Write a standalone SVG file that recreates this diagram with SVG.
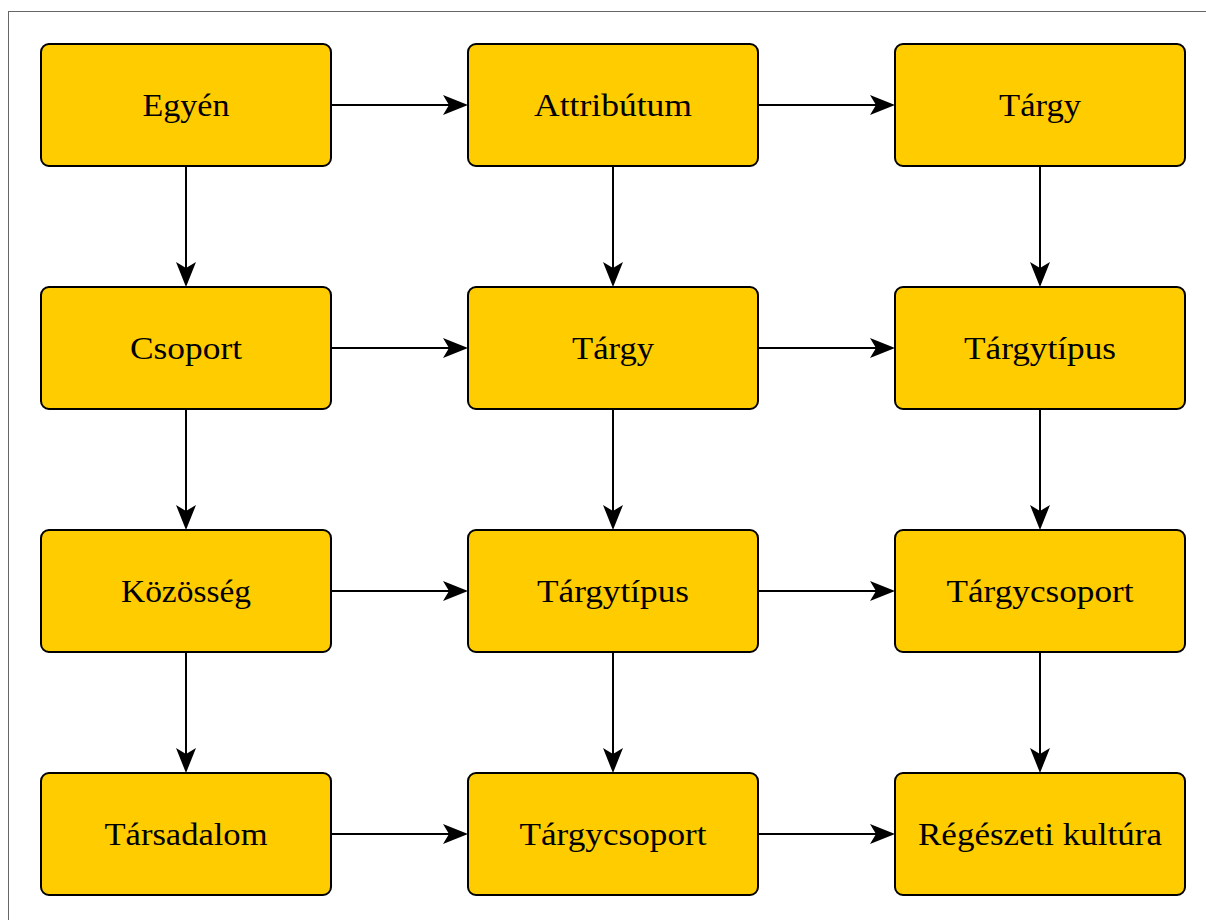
<svg xmlns="http://www.w3.org/2000/svg" width="1206" height="920" viewBox="0 0 1206 920">
<defs>
<style>
.node rect{fill:#FFCC00;stroke:#000;stroke-width:2}
.node text{font-family:"Liberation Serif","Times New Roman",serif;font-size:32px;fill:#000;text-anchor:middle}
.conn path{stroke:#000;stroke-width:2;fill:none;marker-end:url(#arr)}
</style>
<marker id="arr" viewBox="0 0 25 20" refX="13" refY="10" markerWidth="25" markerHeight="20" markerUnits="userSpaceOnUse" orient="auto">
<path d="M0,0 L25,10 L0,20 L6,10 Z" fill="#000"/>
</marker>
</defs>
<rect x="8.5" y="11.5" width="1210" height="920" fill="#fff" stroke="#666" stroke-width="1"/>
<g class="conn">
<path d="M331,105 H456"/>
<path d="M758,105 H883"/>
<path d="M331,348 H456"/>
<path d="M758,348 H883"/>
<path d="M331,591 H456"/>
<path d="M758,591 H883"/>
<path d="M331,834 H456"/>
<path d="M758,834 H883"/>
<path d="M186,166 V275"/>
<path d="M186,409 V518"/>
<path d="M186,652 V761"/>
<path d="M613,166 V275"/>
<path d="M613,409 V518"/>
<path d="M613,652 V761"/>
<path d="M1040,166 V275"/>
<path d="M1040,409 V518"/>
<path d="M1040,652 V761"/>
</g>
<g id="n1" class="node"><rect x="41" y="44" width="290" height="122" rx="8"/><text x="186" y="116" textLength="87" lengthAdjust="spacingAndGlyphs">Egyén</text></g>
<g id="n2" class="node"><rect x="468" y="44" width="290" height="122" rx="8"/><text x="613" y="116" textLength="158" lengthAdjust="spacingAndGlyphs">Attribútum</text></g>
<g id="n3" class="node"><rect x="895" y="44" width="290" height="122" rx="8"/><text x="1040" y="116" textLength="82" lengthAdjust="spacingAndGlyphs">Tárgy</text></g>
<g id="n4" class="node"><rect x="41" y="287" width="290" height="122" rx="8"/><text x="186" y="359" textLength="112" lengthAdjust="spacingAndGlyphs">Csoport</text></g>
<g id="n5" class="node"><rect x="468" y="287" width="290" height="122" rx="8"/><text x="613" y="359" textLength="82" lengthAdjust="spacingAndGlyphs">Tárgy</text></g>
<g id="n6" class="node"><rect x="895" y="287" width="290" height="122" rx="8"/><text x="1040" y="359" textLength="152" lengthAdjust="spacingAndGlyphs">Tárgytípus</text></g>
<g id="n7" class="node"><rect x="41" y="530" width="290" height="122" rx="8"/><text x="186" y="602" textLength="130" lengthAdjust="spacingAndGlyphs">Közösség</text></g>
<g id="n8" class="node"><rect x="468" y="530" width="290" height="122" rx="8"/><text x="613" y="602" textLength="152" lengthAdjust="spacingAndGlyphs">Tárgytípus</text></g>
<g id="n9" class="node"><rect x="895" y="530" width="290" height="122" rx="8"/><text x="1040" y="602" textLength="187" lengthAdjust="spacingAndGlyphs">Tárgycsoport</text></g>
<g id="n10" class="node"><rect x="41" y="773" width="290" height="122" rx="8"/><text x="186" y="845" textLength="163" lengthAdjust="spacingAndGlyphs">Társadalom</text></g>
<g id="n11" class="node"><rect x="468" y="773" width="290" height="122" rx="8"/><text x="613" y="845" textLength="187" lengthAdjust="spacingAndGlyphs">Tárgycsoport</text></g>
<g id="n12" class="node"><rect x="895" y="773" width="290" height="122" rx="8"/><text x="1040" y="845" textLength="244" lengthAdjust="spacingAndGlyphs">Régészeti kultúra</text></g>
</svg>
